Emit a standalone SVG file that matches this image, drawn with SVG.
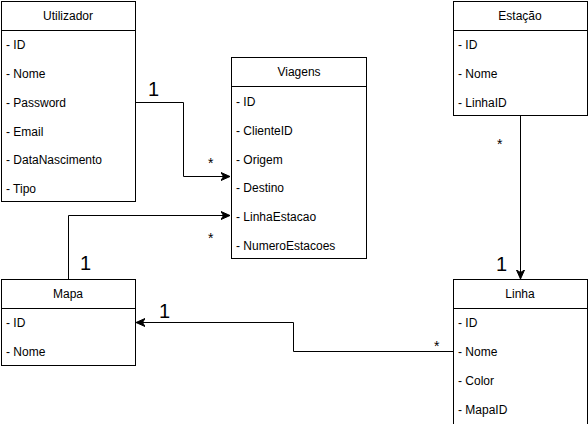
<svg xmlns="http://www.w3.org/2000/svg" width="588" height="424" viewBox="0 0 588 424" font-family="Liberation Sans, Arial, Helvetica, sans-serif" font-size="12">
<style>
.box{fill:#fff;stroke:#000;stroke-width:1}
.div{stroke:#000;stroke-width:1}
.h{text-anchor:middle}
.big{font-size:20px}
.star{font-size:14px}
.edge{fill:none;stroke:#000;stroke-width:1}
</style>
<defs>
<marker id="arr" markerWidth="10" markerHeight="10" refX="9" refY="5" orient="auto" markerUnits="userSpaceOnUse">
<path d="M0,1 L9,5 L0,9 L2.5,5 Z" fill="#000" stroke="#000" stroke-width="1"/>
</marker>
</defs>
<g id="connectors">
<path class="edge" d="M135.5,102.5 H183.5 V176.5 H230" marker-end="url(#arr)"/>
<path class="edge" d="M68.5,279 V215.5 H230" marker-end="url(#arr)"/>
<path class="edge" d="M520.5,116 V279" marker-end="url(#arr)"/>
<path class="edge" d="M453,351.5 H293.5 V322.5 H136" marker-end="url(#arr)"/>
<text class="big" x="148" y="96">1</text>
<text class="star" x="208" y="168">*</text>
<text class="big" x="80" y="270">1</text>
<text class="star" x="208" y="243">*</text>
<text class="star" x="497" y="149">*</text>
<text class="big" x="496" y="271">1</text>
<text class="big" x="159" y="318">1</text>
<text class="star" x="434" y="351">*</text>
</g>
<g id="utilizador">
<rect class="box" x="1.5" y="1.5" width="134" height="200"/>
<line class="div" x1="1.5" y1="30.5" x2="135.5" y2="30.5"/>
<text class="h" x="68" y="20">Utilizador</text>
<text x="6" y="49">- ID</text>
<text x="6" y="78">- Nome</text>
<text x="6" y="107">- Password</text>
<text x="6" y="136">- Email</text>
<text x="6" y="164">- DataNascimento</text>
<text x="6" y="193">- Tipo</text>
</g>
<g id="viagens">
<rect class="box" x="231.5" y="57.5" width="135" height="201"/>
<line class="div" x1="231.5" y1="86.5" x2="366.5" y2="86.5"/>
<text class="h" x="299" y="76">Viagens</text>
<text x="236" y="106">- ID</text>
<text x="236" y="135">- ClienteID</text>
<text x="236" y="164">- Origem</text>
<text x="236" y="192">- Destino</text>
<text x="236" y="221">- LinhaEstacao</text>
<text x="236" y="250">- NumeroEstacoes</text>
</g>
<g id="estacao">
<rect class="box" x="453.5" y="1.5" width="134" height="114"/>
<line class="div" x1="453.5" y1="30.5" x2="587.5" y2="30.5"/>
<text class="h" x="520" y="20">Estação</text>
<text x="458" y="49">- ID</text>
<text x="458" y="78">- Nome</text>
<text x="458" y="107">- LinhaID</text>
</g>
<g id="linha">
<rect class="box" x="453.5" y="279.5" width="134" height="150"/>
<line class="div" x1="453.5" y1="308.5" x2="587.5" y2="308.5"/>
<text class="h" x="520" y="298">Linha</text>
<text x="458" y="327">- ID</text>
<text x="458" y="356">- Nome</text>
<text x="458" y="385">- Color</text>
<text x="458" y="414">- MapaID</text>
</g>
<g id="mapa">
<rect class="box" x="1.5" y="279.5" width="134" height="86"/>
<line class="div" x1="1.5" y1="308.5" x2="135.5" y2="308.5"/>
<text class="h" x="68" y="298">Mapa</text>
<text x="6" y="327">- ID</text>
<text x="6" y="356">- Nome</text>
</g>
</svg>
